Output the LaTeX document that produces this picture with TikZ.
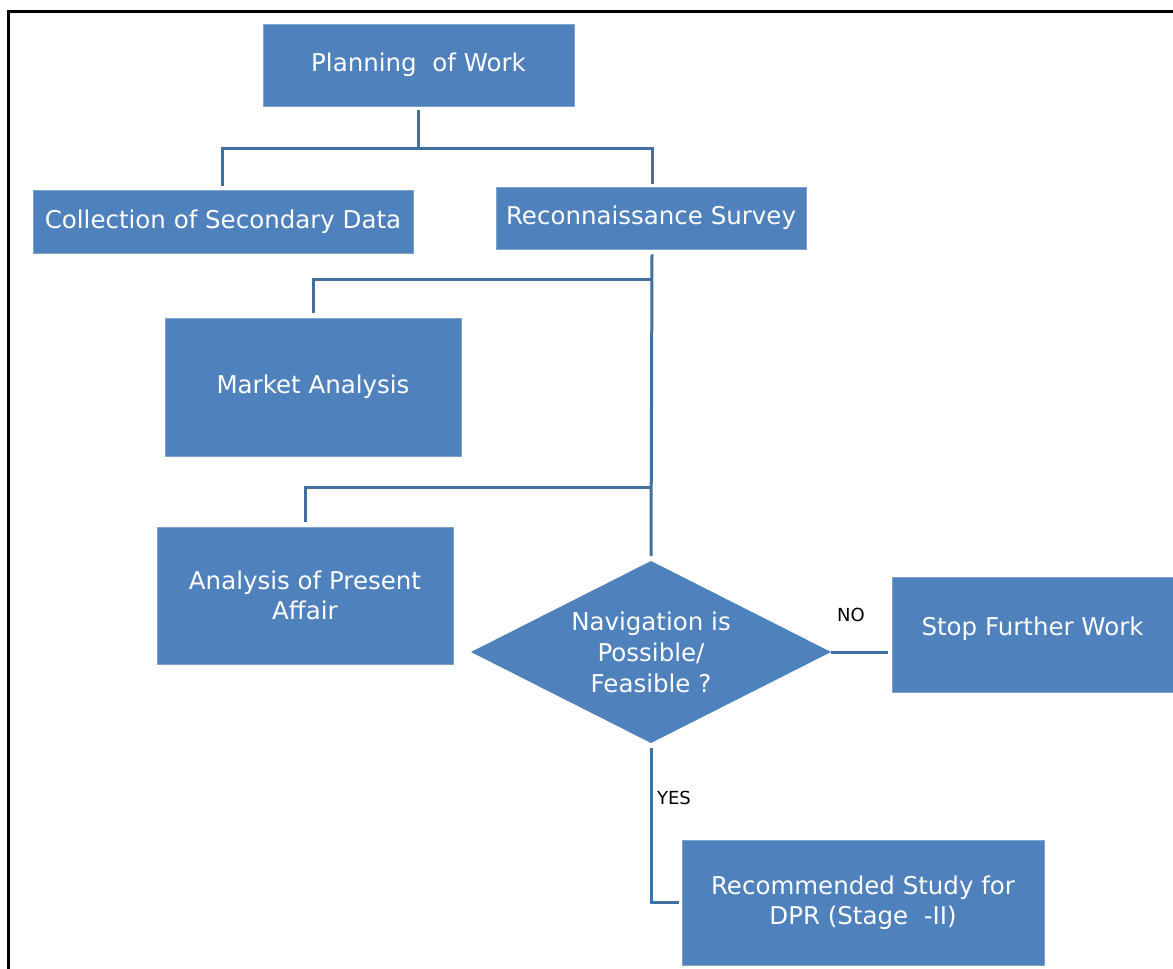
\documentclass[tikz,border=0pt]{standalone}
\usepackage{fontspec}
\setmainfont{DejaVu Sans}
\definecolor{boxblue}{HTML}{4F81BD}
\definecolor{lineblue}{HTML}{41709E}
\definecolor{edgeblue}{HTML}{7FA3CF}
\tikzset{
  box/.style={rectangle, fill=boxblue, draw=edgeblue, line width=0.8pt, text=white, inner sep=0pt, align=center, font=\fontsize{24.5}{30}\selectfont},
  dtext/.style={text=white, inner sep=0pt, align=center, font=\fontsize{24.5}{31}\selectfont},
  conn/.style={draw=lineblue, line width=3pt},
  lbl/.style={text=black, inner sep=0pt, font=\fontsize{18}{20}\selectfont},
  frame/.style={draw=black, line width=3pt}
}
\begin{document}
\begin{tikzpicture}[x=1pt, y=-1pt]
\useasboundingbox (0,0) rectangle (1173,969);
\fill[white] (0,0) rectangle (1173,969);
\draw[frame] (8,969) -- (8,11) -- (1173,11);

\node[box, minimum width=311pt, minimum height=82pt] (plan) at (418.5,65) {Planning\ \ of Work};
\node[box, minimum width=380pt, minimum height=63pt] (coll) at (223,221.5) {Collection of Secondary Data};
\node[box, minimum width=310pt, minimum height=62pt] (recon) at (651,218) {Reconnaissance Survey};
\node[box, minimum width=296pt, minimum height=138pt] (market) at (313,387) {Market Analysis};
\node[box, minimum width=296pt, minimum height=137pt] (affair) at (305,595.5) {Analysis of Present\\Affair};

% decision diamond
\coordinate (dtop) at (651,561);
\coordinate (dright) at (831,652);
\coordinate (dbot) at (651,743);
\coordinate (dleft) at (471,652);
\fill[boxblue] (dtop) -- (dright) -- (dbot) -- (dleft) -- cycle;
\node[dtext] (dia) at (651,652) {Navigation is\\Possible/\\Feasible ?};

\node[box, minimum width=281pt, minimum height=115pt] (stop) at (1032.5,634.5) {\raisebox{16pt}{Stop Further Work}};
\node[box, minimum width=362pt, minimum height=125pt] (rec) at (863,902.5) {Recommended Study for\\DPR (Stage\ \ -II)};

\coordinate (j1) at (419,148);
\coordinate (j2) at (652,279);
\coordinate (j3) at (652,487);

\draw[conn] ([yshift=-4pt]plan.south) -- (plan.south |- j1);
\draw[conn] ([yshift=4pt]coll.north -| 222,0) |- (j1) -| ([yshift=3pt]recon.north -| j2);
\draw[conn] ([yshift=-5pt]recon.south -| j2) -- ([yshift=5pt]dtop);
\draw[conn] (j2) -| ([yshift=5pt]market.north);
\draw[conn] (j3) -| ([yshift=5pt]affair.north);
\draw[conn] (dright) -- ([xshift=-4pt]dright -| stop.west);
\node[lbl] (no) at (851,615) {NO};
\draw[conn] ([yshift=-5pt]dbot) |- ([xshift=-3pt]rec.west);
\node[lbl] (yes) at (674,798) {YES};
\end{tikzpicture}
\end{document}
